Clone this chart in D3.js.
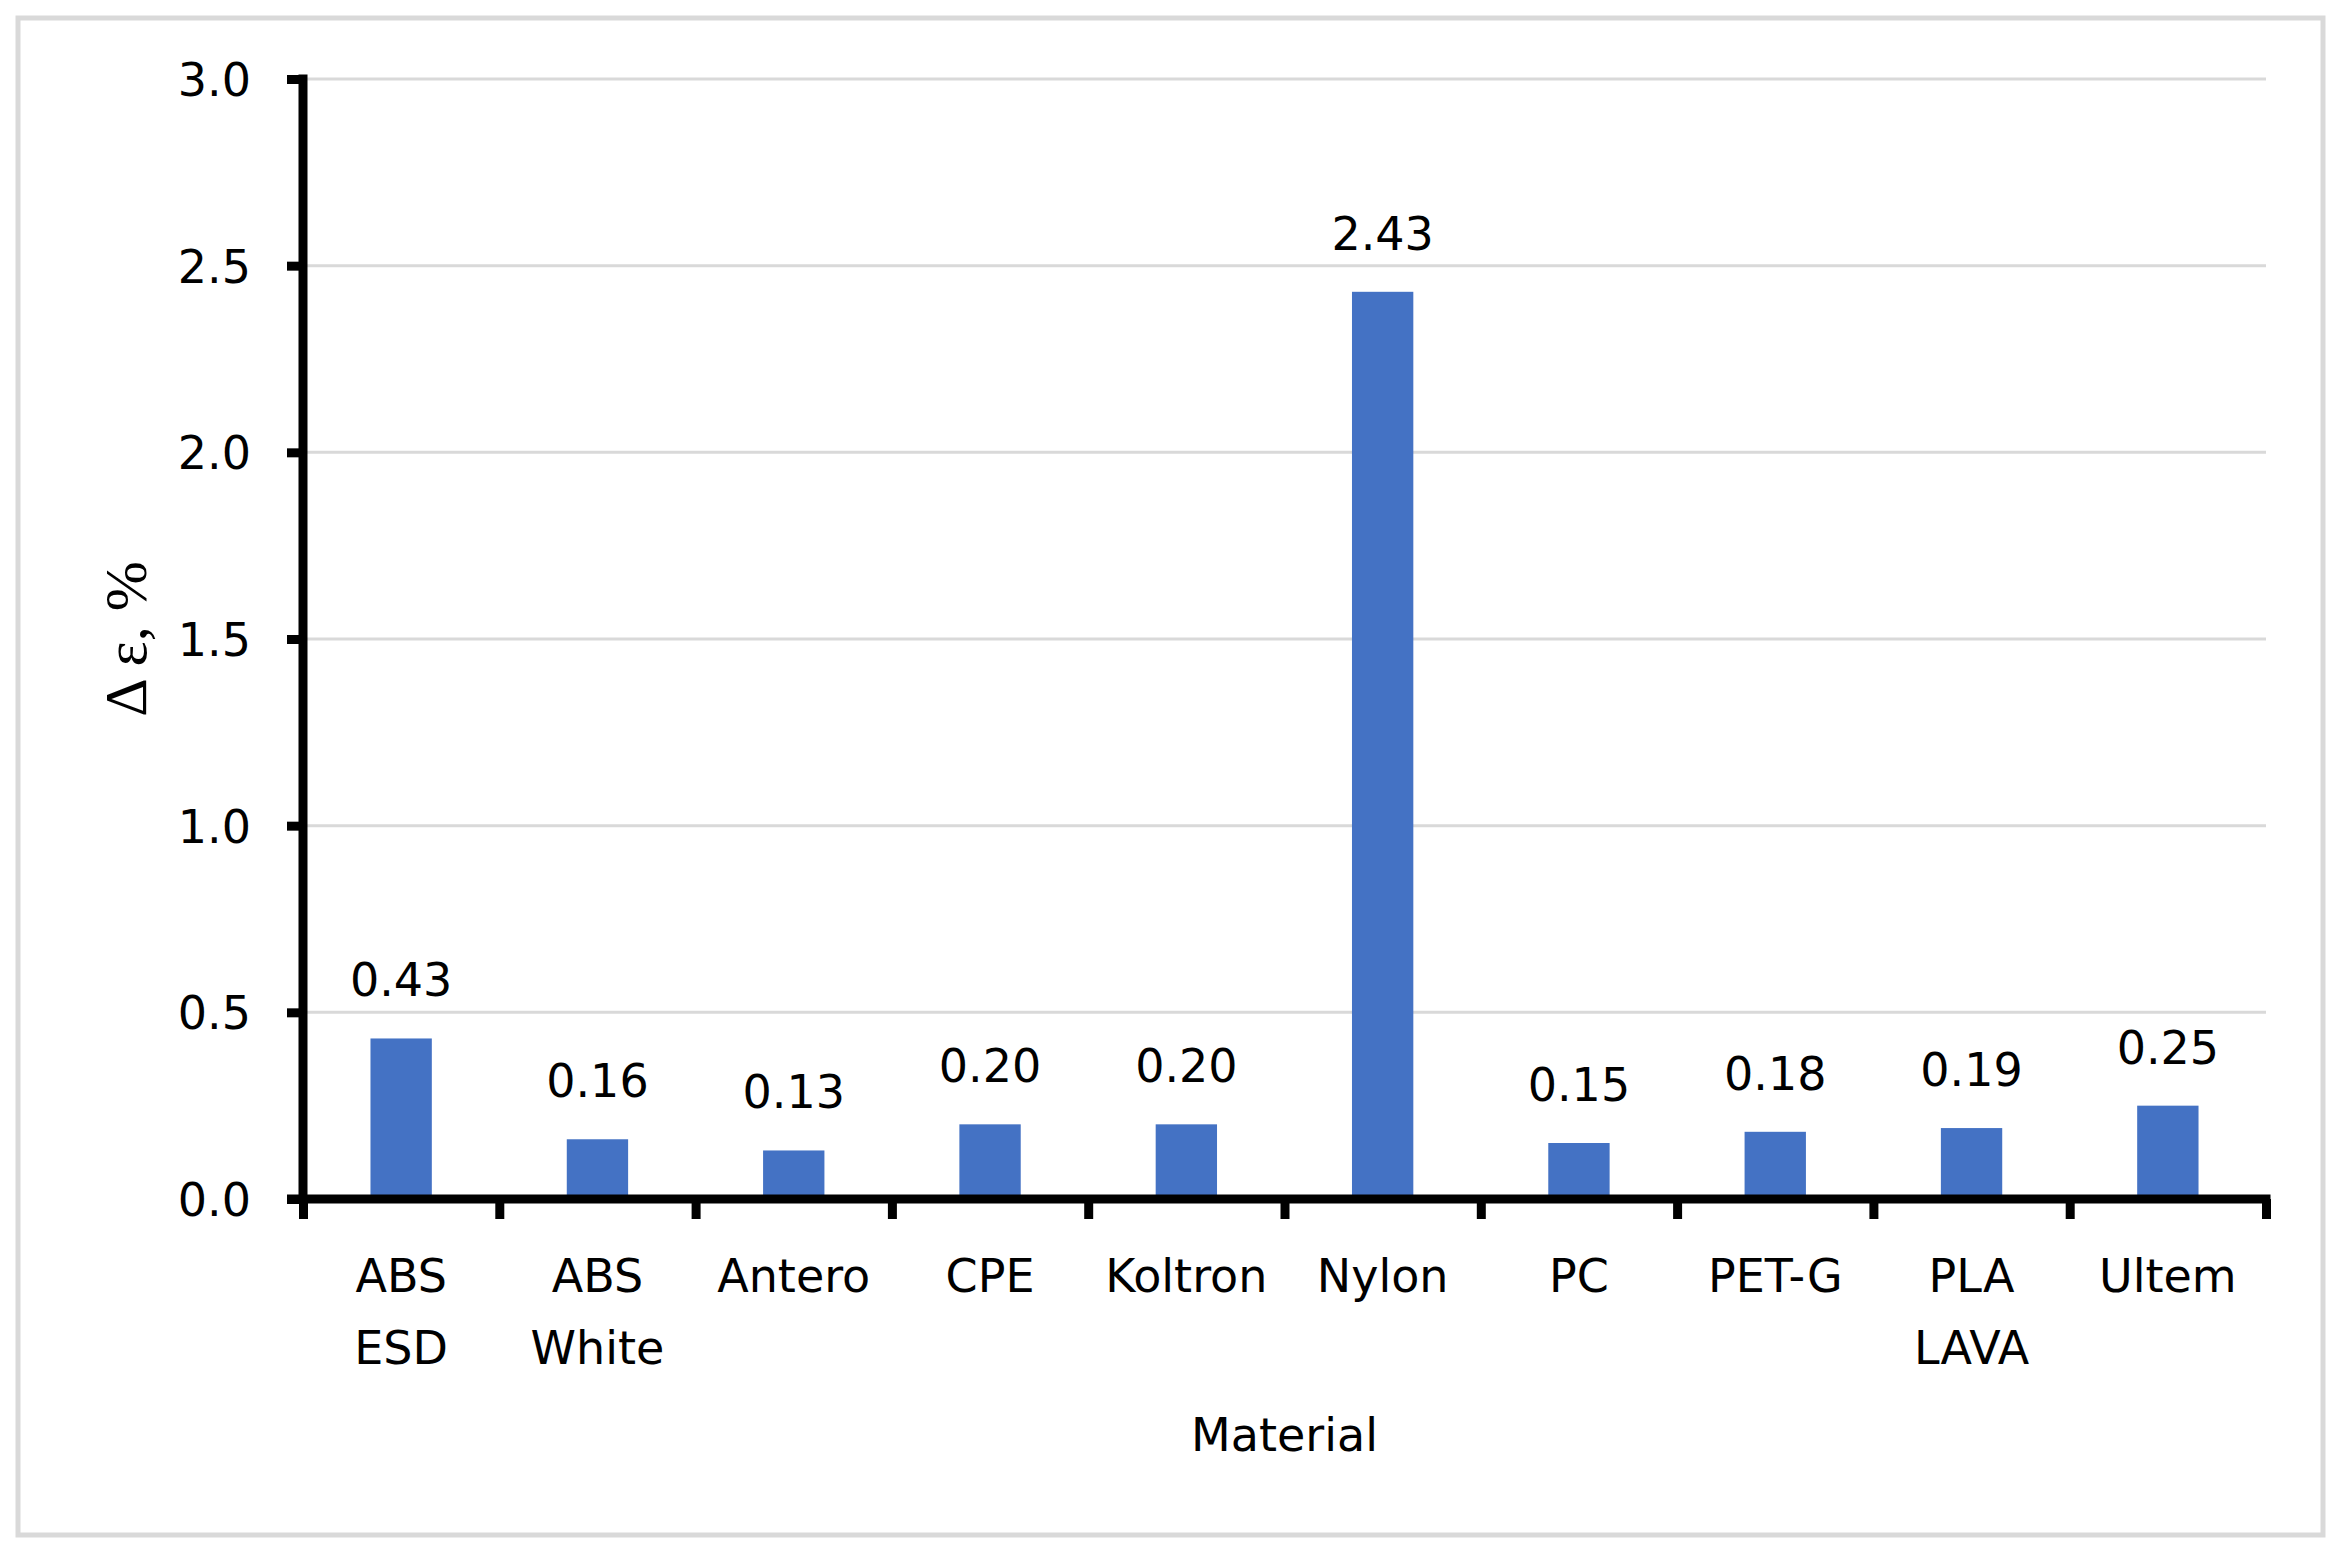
<!DOCTYPE html>
<html>
<head>
<meta charset="utf-8">
<script src="https://cdn.jsdelivr.net/npm/d3@7"></script>
<style>
  body { margin: 0; background: #fff; }
  svg { display: block; }
  text { font-family: "DejaVu Sans", sans-serif; fill: #000; }
</style>
</head>
<body>
<svg id="chart" width="2344" height="1564"></svg>
<script>
// Data.
const materials = ["ABS ESD", "ABS White", "Antero", "CPE", "Koltron", "Nylon", "PC", "PET-G", "PLA LAVA", "Ultem"];
const deltaStrain = [0.43, 0.16, 0.13, 0.20, 0.20, 2.43, 0.15, 0.18, 0.19, 0.25];
const yTicks = [0.0, 0.5, 1.0, 1.5, 2.0, 2.5, 3.0];
const xTitle = "Material";
const yTitle = "\u0394 \u03b5, %";

(function () {
  const left = 303, right = 2266, top = 79, bottom = 1199;
  const svg = d3.select("#chart");

  // outer chart frame
  svg.append("rect")
    .attr("x", 18).attr("y", 18)
    .attr("width", 2305).attr("height", 1517)
    .attr("fill", "#fff")
    .attr("stroke", "#d9d9d9")
    .attr("stroke-width", 5);

  const x = d3.scaleBand().domain(materials).range([left, right]).padding(0);
  const edge = d3.scaleLinear().domain([0, materials.length]).range([left, right]);
  const y = d3.scaleLinear().domain([0, 3]).range([bottom, top]);
  const barW = x.bandwidth() / 3.2;

  // gridlines
  svg.append("g")
    .selectAll("line")
    .data(yTicks.filter((d) => d > 0))
    .enter().append("line")
    .attr("x1", left).attr("x2", right)
    .attr("y1", (d) => y(d)).attr("y2", (d) => y(d))
    .attr("stroke", "#d9d9d9")
    .attr("stroke-width", 3);

  // bars
  const data = materials.map((m, i) => ({ name: m, value: deltaStrain[i] }));
  svg.append("g")
    .selectAll("rect")
    .data(data)
    .enter().append("rect")
    .attr("x", (d) => x(d.name) + (x.bandwidth() - barW) / 2)
    .attr("y", (d) => y(d.value))
    .attr("width", barW)
    .attr("height", (d) => bottom - y(d.value))
    .attr("fill", "#4472c4");

  // data labels
  svg.append("g")
    .selectAll("text")
    .data(data)
    .enter().append("text")
    .attr("x", (d) => x(d.name) + x.bandwidth() / 2)
    .attr("y", (d) => y(d.value) - 42)
    .attr("text-anchor", "middle")
    .attr("font-size", 46)
    .text((d) => d.value.toFixed(2));

  // y axis
  const yAxis = svg.append("g")
    .attr("transform", `translate(${left},0)`)
    .call(d3.axisLeft(y).tickValues(yTicks).tickSize(16).tickSizeOuter(0)
      .tickPadding(36).tickFormat(d3.format(".1f")));
  yAxis.select(".domain").attr("stroke", "#000").attr("stroke-width", 9)
    .attr("d", `M0,${top - 4.5}V${bottom + 4.5}`);
  yAxis.selectAll(".tick line").attr("stroke", "#000").attr("stroke-width", 9);
  yAxis.selectAll(".tick text").attr("font-size", 46).attr("dy", "0.36em");

  // x axis: tick marks at category boundaries
  const xAxis = svg.append("g")
    .attr("transform", `translate(0,${bottom})`)
    .call(d3.axisBottom(edge).tickValues(d3.range(materials.length + 1))
      .tickSize(20).tickSizeOuter(0).tickFormat(""));
  xAxis.select(".domain").attr("stroke", "#000").attr("stroke-width", 9)
    .attr("d", `M${left - 16},0H${right + 4.5}`);
  xAxis.selectAll(".tick line").attr("stroke", "#000").attr("stroke-width", 9)
    .attr("y1", 0);

  // category labels, wrapped on spaces
  const cat = svg.append("g")
    .selectAll("text")
    .data(materials)
    .enter().append("text")
    .attr("x", (d) => x(d) + x.bandwidth() / 2)
    .attr("y", 1292)
    .attr("text-anchor", "middle")
    .attr("font-size", 46);
  cat.each(function (d) {
    const t = d3.select(this);
    d.split(" ").forEach((w, i) => {
      t.append("tspan")
        .attr("x", x(d) + x.bandwidth() / 2)
        .attr("dy", i === 0 ? 0 : 72)
        .text(w);
    });
  });

  // axis titles
  svg.append("text")
    .attr("x", (left + right) / 2)
    .attr("y", 1451)
    .attr("text-anchor", "middle")
    .attr("font-size", 46)
    .text(xTitle);

  svg.append("text")
    .attr("transform", `translate(146,${(top + bottom) / 2}) rotate(-90)`)
    .attr("text-anchor", "middle")
    .style("font-family", "'Liberation Serif', 'Times New Roman', serif")
    .attr("font-size", 60)
    .text(yTitle);
})();
</script>
</body>
</html>
